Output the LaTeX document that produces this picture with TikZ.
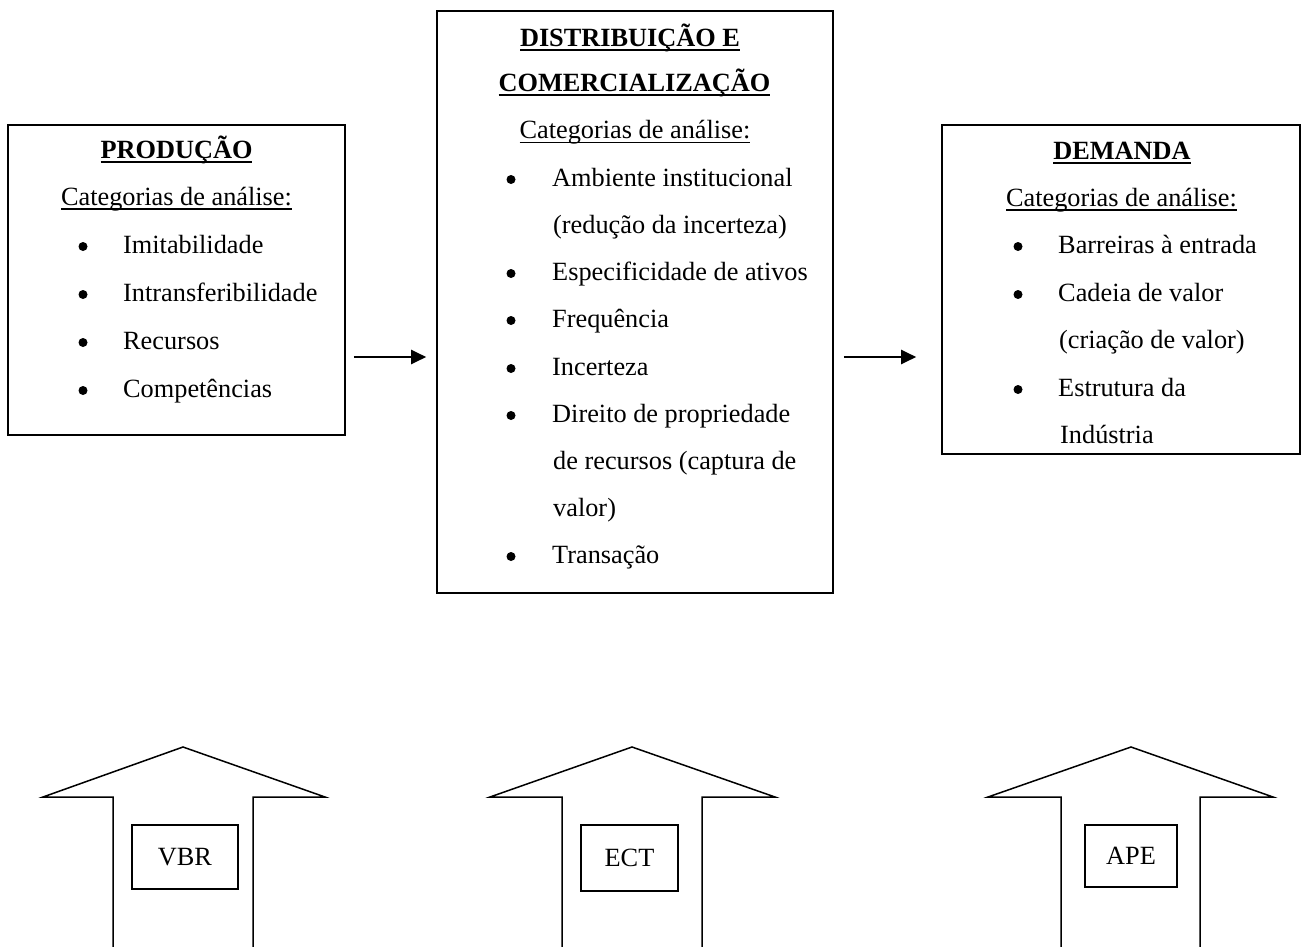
\documentclass[tikz,border=0pt]{standalone}
\usepackage{fontspec}
\setmainfont{Liberation Serif}
\usetikzlibrary{arrows.meta}
\newcommand\myul[2][1.4pt]{\setbox0\hbox{#2}\rlap{\rule[-4.5pt]{\wd0}{#1}}\box0}
\begin{document}
\begin{tikzpicture}[x=1pt,y=-1pt,line join=miter,
  box/.style={draw,line width=1.6pt,rectangle,inner sep=0pt},
  txt/.style={font=\fontsize{26.3}{30}\selectfont,inner sep=0pt},
  hd/.style={txt,anchor=base},
  it/.style={txt,anchor=base west},
  conn/.style={line width=2pt,-{Triangle[length=15pt,width=14pt]}},
  house/.style={line width=1.5pt},
  tag/.style={draw,line width=1.5pt,txt,rectangle}
]
\clip (0,0) rectangle (1306,947);
\fill[white] (0,0) rectangle (1306,947);

% main boxes
\node[box,minimum width=337pt,minimum height=310pt] (prod) at (176.5,280) {};
\node[box,minimum width=396pt,minimum height=582pt] (dist) at (635,302) {};
\node[box,minimum width=358pt,minimum height=329pt] (dem) at (1121,289.5) {};

% PRODUCAO
\node[hd] (p0) at (176.5,158) {\myul[2pt]{\textbf{PRODUÇÃO}}};
\node[hd] (p1) at (176.5,205) {\myul{Categorias de análise:}};
\foreach \y/\t [count=\i] in {253/Imitabilidade,301/Intransferibilidade,349/Recursos,397/Competências}{
  \fill (83,\y-6.5) circle (4.5);
  \node[it] (pi\i) at (123,\y) {\t};
}

% DISTRIBUICAO
\node[hd] (d0) at (630,47) {\myul[2pt]{\textbf{DISTRIBUIÇÃO E}}};
\node[hd] (d1) at (634.5,92) {\myul[2pt]{\textbf{COMERCIALIZAÇÃO}}};
\node[hd] (d2) at (635,139) {\myul{Categorias de análise:}};
\foreach \y in {186,280,327,375,422,563}{\fill (511,\y-6.5) circle (4.5);}
\node[it] (di1) at (552,186) {Ambiente institucional};
\node[it] (di2) at (553,233) {(redução da incerteza)};
\node[it] (di3) at (552,280) {Especificidade de ativos};
\node[it] (di4) at (552,327) {Frequência};
\node[it] (di5) at (552,375) {Incerteza};
\node[it] (di6) at (552,422) {Direito de propriedade};
\node[it] (di7) at (553,469) {de recursos (captura de};
\node[it] (di8) at (553,516) {valor)};
\node[it] (di9) at (552,563) {Transação};

% DEMANDA
\node[hd] (m0) at (1122,160) {\myul[2pt]{\textbf{DEMANDA}}};
\node[hd] (m1) at (1121.5,206) {\myul{Categorias de análise:}};
\foreach \y in {253,301,396}{\fill (1018,\y-6.5) circle (4.5);}
\node[it] (mi1) at (1058,253) {Barreiras à entrada};
\node[it] (mi2) at (1058,301) {Cadeia de valor};
\node[it] (mi3) at (1059,348) {(criação de valor)};
\node[it] (mi4) at (1058,396) {Estrutura da};
\node[it] (mi5) at (1060,443) {Indústria};

% connectors
\draw[conn,shorten <=8pt,shorten >=10pt] (prod.east |- 0,357) -- (dist.west |- 0,357);
\draw[conn,shorten <=10pt,shorten >=25pt] (dist.east |- 0,357) -- (dem.west |- 0,357);

% bottom arrows
\draw[house] (113,960) -- (113,797) -- (43,797) -- (183,747) -- (325,797) -- (253,797) -- (253,960);
\node[tag,minimum width=106pt,minimum height=64pt] (vbr) at (185,857) {VBR};
\draw[house] (562,960) -- (562,797) -- (490,797) -- (632,747) -- (775,797) -- (702,797) -- (702,960);
\node[tag,minimum width=97pt,minimum height=66pt] (ect) at (629.5,858) {ECT};
\draw[house] (1061,960) -- (1061,797) -- (988,797) -- (1131,747) -- (1273,797) -- (1200,797) -- (1200,960);
\node[tag,minimum width=92pt,minimum height=62pt] (ape) at (1131,856) {APE};
\end{tikzpicture}
\end{document}
